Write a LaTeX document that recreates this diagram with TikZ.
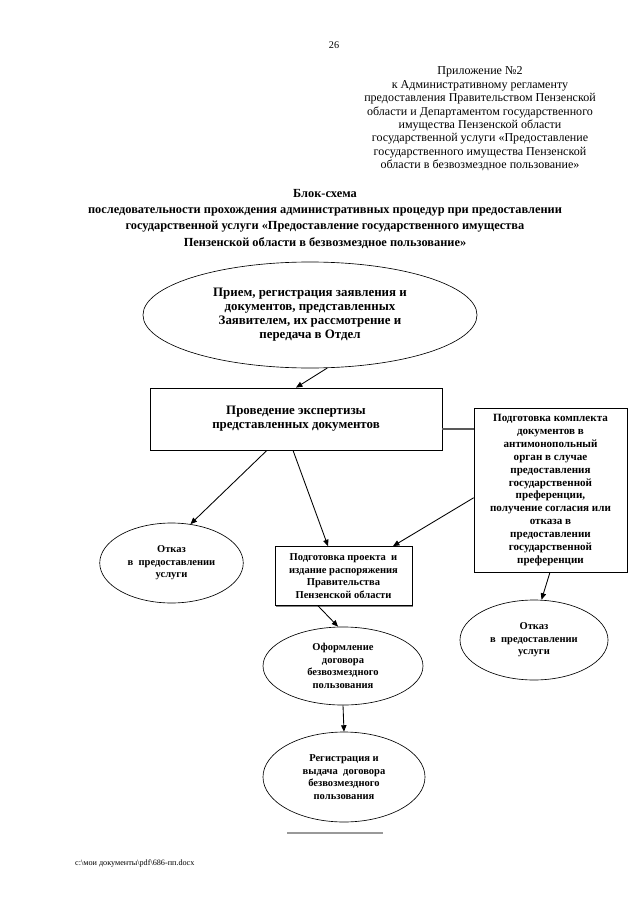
\documentclass[tikz,border=0pt]{standalone}
\usepackage{fontspec}
\setmainfont{Liberation Serif}
\usetikzlibrary{arrows.meta,shapes.geometric,shadows}
\begin{document}
\begin{tikzpicture}[x=0.9302pt,y=-0.9302pt,
  every node/.style={inner sep=0pt},
  conn/.style={line width=0.8pt,-{Triangle[length=6pt,width=5pt]}},
  ell/.style={draw,ellipse,line width=0.6pt},
  boxshape/.style={draw,rectangle,line width=0.6pt,fill=white,
    drop shadow={shadow xshift=1.1pt,shadow yshift=-1.1pt,fill=black!50,opacity=1}},
  hdr/.style={font=\fontsize{11.2}{12.5}\selectfont,align=center},
  ttl/.style={font=\bfseries\fontsize{11.5}{14.9}\selectfont,align=center},
  big/.style={font=\bfseries\fontsize{12}{13}\selectfont,align=center},
  mid/.style={font=\bfseries\fontsize{10.3}{12}\selectfont,align=center},
  sml/.style={font=\bfseries\fontsize{9.8}{11.6}\selectfont,align=center}
]
\useasboundingbox (0,0) rectangle (640,905);

\node[font=\fontsize{9.5}{11}\selectfont] (pg) at (334,45) {26};

\node[hdr] (hd) at (480,119) {Приложение №2\\
к Административному регламенту\\
предоставления Правительством Пензенской\\
области и Департаментом государственного\\
имущества Пензенской области\\
государственной услуги «Предоставление\\
государственного имущества Пензенской\\
области в безвозмездное пользование»};

\node[ttl] (tt) at (325,219) {Блок-схема\\
последовательности прохождения административных процедур при предоставлении\\
государственной услуги «Предоставление государственного имущества\\
Пензенской области в безвозмездное пользование»};

\node[ell,big,minimum width=310.7pt,minimum height=98.6pt] (E1) at (310,315)
 {Прием, регистрация заявления и\\документов, представленных\\Заявителем, их рассмотрение и\\передача в Отдел};

\node[boxshape,big,minimum width=271.6pt,minimum height=57.7pt] (B1) at (296,419)
 {Проведение экспертизы\\представленных документов};

\node[boxshape,mid,minimum width=142.3pt,minimum height=152.6pt] (R) at (550.5,490)
 {Подготовка комплекта\\документов в\\антимонопольный\\орган в случае\\предоставления\\государственной\\преференции,\\получение согласия или\\отказа в\\предоставлении\\государственной\\преференции};

\node[boxshape,sml,minimum width=127.4pt,minimum height=54.9pt] (M) at (343.5,576)
 {Подготовка проекта~ и\\издание распоряжения\\Правительства\\Пензенской области};

\node[ell,sml,minimum width=133.5pt,minimum height=74.4pt] (EL) at (171.5,563)
 {Отказ\\в~ предоставлении\\услуги};

\node[ell,sml,minimum width=137.7pt,minimum height=74.4pt] (ER) at (534,640)
 {Отказ\\в~ предоставлении\\услуги};

\node[ell,sml,minimum width=148.8pt,minimum height=72.6pt] (EO) at (343,666)
 {Оформление\\договора\\безвозмездного\\пользования};

\node[ell,sml,minimum width=150.7pt,minimum height=83.7pt] (EG) at (344,777)
 {Регистрация и\\выдача~ договора\\безвозмездного\\пользования};

% connectors
\draw[conn] (E1.-72) -- (B1.north);
\draw[conn] ([xshift=-27pt]B1.south) -- (EL.64);
\draw[conn] ([xshift=-2.8pt]B1.south) -- ([xshift=-14.4pt]M.north);
\draw[conn] ([yshift=-7.2pt]R.west) -- ([xshift=46pt]M.north);
\draw[conn] ([xshift=-0.5pt]R.south) -- ([xshift=7pt]ER.north);
\draw[conn] ([xshift=-23.7pt]M.south) -- ([xshift=-4.6pt]EO.north);
\draw[conn] (EO.south) -- (EG.north);
\coordinate (g1) at ([yshift=-9.3pt]B1.east);
\draw[line width=1.3pt,black!65] (g1) -- (g1 -| R.west);

% footer
\coordinate (f1) at (287,833);
\coordinate (f2) at (383,833);
\draw[line width=1.2pt,black!40] (f1) -- (f2);
\node[anchor=west,font=\fontsize{7.6}{9}\selectfont] (ft) at (75,863) {c:\textbackslash мои документы\textbackslash pdf\textbackslash 686-пп.docx};
\end{tikzpicture}
\end{document}
